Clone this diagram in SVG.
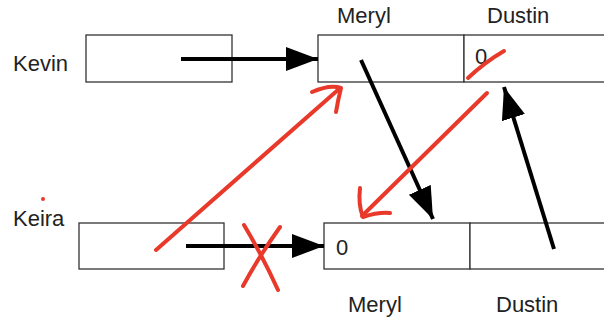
<svg xmlns="http://www.w3.org/2000/svg" width="604" height="320" viewBox="0 0 604 320">
<style>
.box{fill:#fff;stroke:#333;stroke-width:1.3}
.lbl{font-family:"Liberation Sans",Arial,sans-serif;font-size:22px;fill:#222}
.ptr{stroke:#000;stroke-width:4;fill:none}
.red{stroke:#e8392a;stroke-width:4;fill:none;stroke-linecap:round;stroke-linejoin:round}
</style>
<defs>
<marker id="ah" markerUnits="userSpaceOnUse" markerWidth="34" markerHeight="26" refX="32" refY="12" orient="auto">
<path d="M0,0 L32,12 L0,24 Z" fill="#000"/>
</marker>
</defs>
<rect width="604" height="320" fill="#fff"/>
<g id="kevin">
<text class="lbl" x="13" y="71">Kevin</text>
<rect class="box" x="86" y="35" width="146" height="47"/>
</g>
<g id="meryl-top">
<text class="lbl" x="337" y="23">Meryl</text>
<rect class="box" x="318" y="35" width="146" height="47"/>
</g>
<g id="dustin-top">
<text class="lbl" x="487" y="23">Dustin</text>
<rect class="box" x="464" y="35" width="146" height="47"/>
<text class="lbl" x="475" y="64">0</text>
</g>
<g id="keira">
<text class="lbl" x="13" y="226">Keira</text>
<rect class="box" x="79" y="223" width="145" height="46"/>
</g>
<g id="meryl-bottom">
<rect class="box" x="324" y="223" width="146" height="46"/>
<text class="lbl" x="336" y="255">0</text>
<text class="lbl" x="348" y="312">Meryl</text>
</g>
<g id="dustin-bottom">
<rect class="box" x="470" y="223" width="140" height="46"/>
<text class="lbl" x="496" y="312">Dustin</text>
</g>
<g id="connectors">
<line class="ptr" x1="181" y1="59" x2="318" y2="59" marker-end="url(#ah)"/>
<line class="ptr" x1="361" y1="60" x2="433" y2="219" marker-end="url(#ah)"/>
<line class="ptr" x1="554" y1="249" x2="504" y2="87" marker-end="url(#ah)"/>
<line class="ptr" x1="186" y1="246" x2="324" y2="246" marker-end="url(#ah)"/>
</g>
<g id="annotations">
<circle cx="43" cy="199" r="2" fill="#e8392a"/>
<path class="red" d="M468,78 Q485,62 504,51"/>
<path class="red" d="M156,250 L339,89"/>
<path class="red" d="M312,92 Q330,84 341,88 Q338,100 336,112"/>
<path class="red" d="M487,93 L362,216"/>
<path class="red" d="M360,188 Q358,205 363,217 Q378,212 390,213"/>
<path class="red" d="M244,225 Q262,255 278,290"/>
<path class="red" d="M280,227 Q258,258 243,286"/>
</g>
</svg>
